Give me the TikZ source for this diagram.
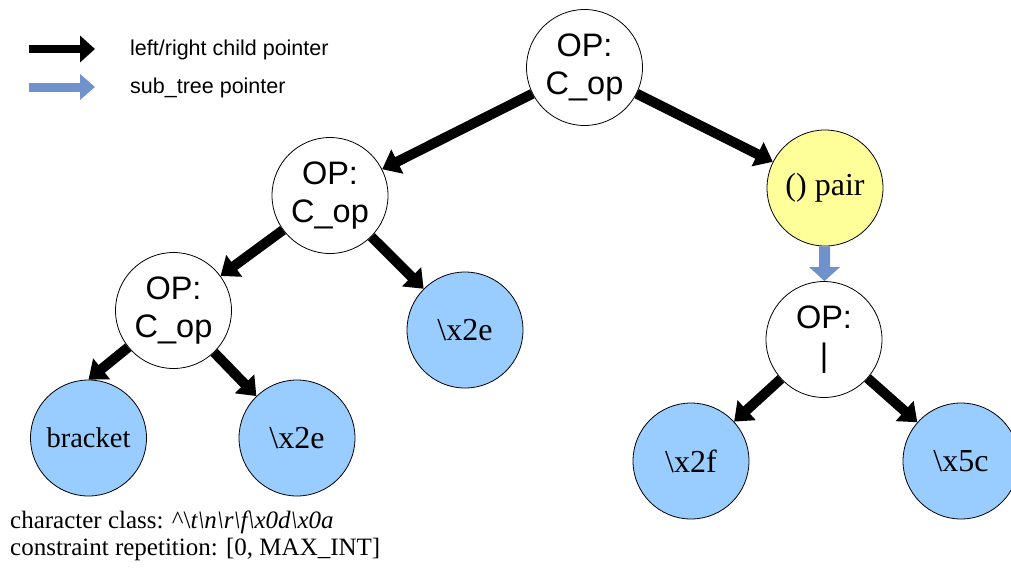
\documentclass[tikz,border=0pt]{standalone}
\usepackage{fontspec}
\setmainfont{Liberation Serif}
\setsansfont{Liberation Sans}
\usetikzlibrary{arrows.meta}
\definecolor{leafblue}{RGB}{153,204,255}
\definecolor{pairyellow}{RGB}{255,255,153}
\definecolor{subblue}{RGB}{112,146,204}
\begin{document}
\begin{tikzpicture}[x=1pt,y=-1pt,
  nodecirc/.style={circle, draw=black, line width=0.8pt, minimum size=116pt, inner sep=0pt},
  opnode/.style={nodecirc, fill=white, font=\sffamily\fontsize{32.5}{38}\selectfont, align=center},
  leaf/.style={nodecirc, fill=leafblue, font=\rmfamily\fontsize{32}{38}\selectfont},
  pairnode/.style={nodecirc, fill=pairyellow, font=\rmfamily\fontsize{32}{38}\selectfont},
  childptr/.style={line width=10pt, draw=black, -{Triangle[length=17pt,width=26pt]}},
  subptr/.style={line width=11pt, draw=subblue, -{Triangle[length=14pt,width=30pt]}},
  legtext/.style={anchor=base west, inner sep=0pt, font=\sffamily\fontsize{21.5}{24}\selectfont},
  bottext/.style={anchor=base west, inner sep=0pt, font=\rmfamily\fontsize{25}{27}\selectfont}
]
\useasboundingbox (0,0) rectangle (1011,570);

% legend
\coordinate (ka) at (29,49);
\coordinate (kb) at (95,49);
\coordinate (sa) at (29,87);
\coordinate (sb) at (95,87);
\draw[line width=8pt, draw=black, -{Triangle[length=15pt,width=26pt]}] (ka) -- (kb);
\draw[line width=9pt, draw=subblue, -{Triangle[length=15pt,width=25pt]}] (sa) -- (sb);
\node[legtext] (lt1) at (130,55) {left/right child pointer};
\node[legtext] (lt2) at (130,93) {sub\_tree pointer};

% tree nodes
\node[opnode] (root) at (584.5,67.5) {OP:\\C\_op};
\node[opnode] (lop) at (330,195.5) {OP:\\C\_op};
\node[opnode] (llop) at (173.5,310.5) {OP:\\C\_op};
\node[leaf] (mx) at (465,330) {\textbackslash x2e};
\node[leaf, font=\rmfamily\fontsize{28.5}{34}\selectfont] (br) at (88.5,438) {bracket};
\node[leaf] (lx) at (297,438) {\textbackslash x2e};
\node[pairnode] (pair) at (825,188) {() pair};
\node[opnode] (bar) at (824,339.5) {OP:\\\textbar};
\node[leaf] (xf) at (691,461) {\textbackslash x2f};
\node[leaf] (xc) at (961,461) {\textbackslash x5c};

% connectors
\draw[childptr] (root) -- (lop);
\draw[childptr] (root) -- (pair);
\draw[childptr] (lop) -- (llop);
\draw[childptr] (lop) -- (mx);
\draw[childptr] (llop) -- (br.north);
\draw[childptr] (llop) -- (lx);
\draw[childptr] (bar) -- (xf);
\draw[childptr] (bar) -- (xc);
\draw[subptr] (pair) -- (bar);

% bottom text
\node[bottext] (cc) at (10,528) {character class: \textasciicircum\textbackslash\textit{t\textbackslash n\textbackslash r\textbackslash f\textbackslash x0d\textbackslash x0a}};
\node[bottext] (cr) at (10,555) {constraint repetition: [0, MAX\_INT]};
\end{tikzpicture}
\end{document}
